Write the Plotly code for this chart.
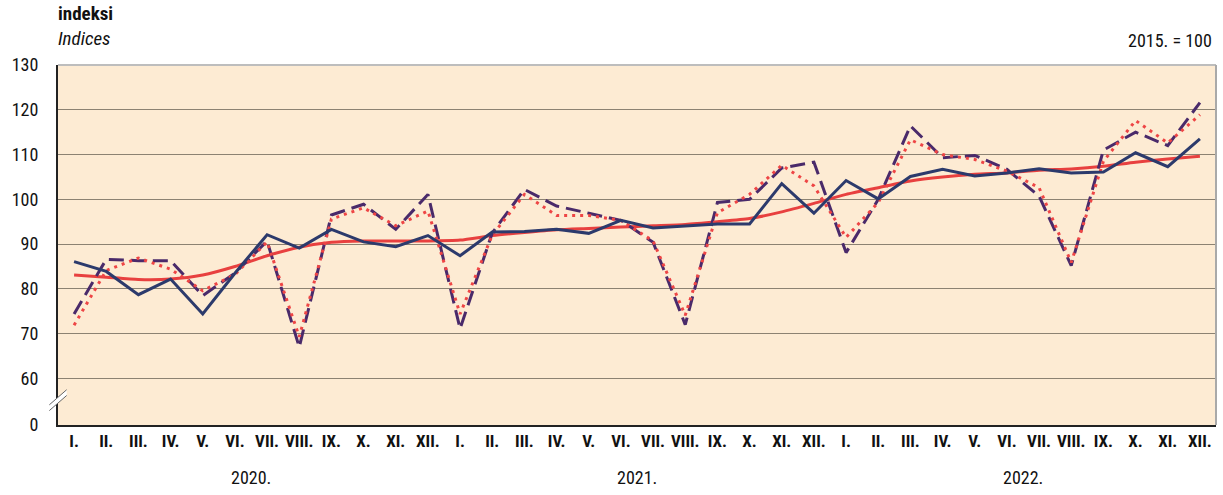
import plotly.graph_objects as go

months = ["I.", "II.", "III.", "IV.", "V.", "VI.", "VII.", "VIII.", "IX.", "X.", "XI.", "XII."]
years = ["2020.", "2021.", "2022."]
x_labels = months * 3
x_pos = list(range(36))

# Solid dark blue series
solid = [86.1, 83.9, 78.7, 82.2, 74.4, 83.5, 92.1, 89.1, 93.3, 90.5, 89.4, 91.9,
         87.4, 92.7, 92.8, 93.3, 92.4, 95.3, 93.6, 94.1, 94.5, 94.5, 103.5, 96.9,
         104.2, 100.1, 105.1, 106.7, 105.2, 105.9, 106.8, 105.9, 106.1, 110.4, 107.3, 113.5]
# Dashed purple series
dashed = [74.4, 86.6, 86.3, 86.3, 78.5, 83.5, 90.7, 67.0, 96.5, 98.9, 93.3, 101.1,
          71.1, 92.5, 102.2, 98.5, 96.9, 95.3, 90.4, 72.0, 99.3, 100.0, 107.0, 108.3,
          88.1, 100.0, 116.4, 109.3, 109.8, 106.7, 100.7, 85.2, 111.0, 115.0, 112.0, 121.6]
# Dotted red series
dotted = [71.9, 84.1, 86.9, 84.4, 79.6, 83.2, 90.5, 69.3, 95.6, 98.1, 94.1, 97.4,
          74.4, 92.0, 101.1, 96.4, 96.4, 95.3, 90.7, 74.1, 97.0, 101.1, 107.6, 103.0,
          91.5, 99.3, 113.3, 110.0, 108.9, 106.3, 102.6, 85.9, 108.5, 117.6, 112.6, 118.9]
# Smooth red trend
trend = [83.1, 82.6, 82.1, 82.2, 83.1, 85.0, 87.4, 89.3, 90.4, 90.7, 90.7, 90.7,
         90.9, 91.9, 92.6, 93.2, 93.5, 93.8, 94.1, 94.4, 95.0, 95.7, 97.2, 99.1,
         101.1, 102.6, 104.1, 105.0, 105.6, 105.9, 106.5, 106.8, 107.4, 108.3, 109.0, 109.6]

y_tickvals = [49.6, 60, 70, 80, 90, 100, 110, 120, 130]
y_ticktext = ["0", "60", "70", "80", "90", "100", "110", "120", "130"]

FONT = "Liberation Sans Narrow, Roboto Condensed, Arial Narrow, Liberation Sans, sans-serif"

fig = go.Figure()
fig.add_trace(go.Scatter(x=x_pos, y=trend, mode="lines",
                         line=dict(color="#E8403F", width=3, shape="spline", smoothing=0.6)))
fig.add_trace(go.Scatter(x=x_pos, y=dashed, mode="lines",
                         line=dict(color="#4A2A6A", width=3, dash="15px,7px")))
fig.add_trace(go.Scatter(x=x_pos, y=dotted, mode="lines",
                         line=dict(color="#EE4545", width=3, dash="3px,5px")))
fig.add_trace(go.Scatter(x=x_pos, y=solid, mode="lines",
                         line=dict(color="#2C3A6C", width=3)))

annotations = [
    dict(text="<b>indeksi</b>", xref="paper", yref="paper", x=0, y=1, yshift=38, xshift=-2,
         xanchor="left", yanchor="bottom", showarrow=False,
         font=dict(family=FONT, size=19, color="#111")),
    dict(text="<i>Indices</i>", xref="paper", yref="paper", x=0, y=1, yshift=13, xshift=-2,
         xanchor="left", yanchor="bottom", showarrow=False,
         font=dict(family=FONT, size=19, color="#111")),
    dict(text="2015. = 100", xref="paper", yref="paper", x=1, y=1, yshift=12, xshift=-2,
         xanchor="right", yanchor="bottom", showarrow=False,
         font=dict(family=FONT, size=18, color="#111")),
]
for k, yr in enumerate(years):
    annotations.append(dict(text=yr, xref="x", yref="paper", x=k * 12 + 5.5, y=0, yshift=-40,
                            xanchor="center", yanchor="top", showarrow=False,
                            font=dict(family=FONT, size=18, color="#111")))

shapes = [
    # axis break marker
    dict(type="path", xref="paper", yref="paper",
         path="M -0.0075 0.04 L 0.0075 0.082 L 0.0075 0.098 L -0.0075 0.056 Z",
         fillcolor="white", line=dict(width=0), layer="above"),
    dict(type="line", xref="paper", yref="paper", x0=-0.0075, y0=0.04, x1=0.0075, y1=0.082,
         line=dict(color="#666", width=1), layer="above"),
    dict(type="line", xref="paper", yref="paper", x0=-0.0075, y0=0.056, x1=0.0075, y1=0.098,
         line=dict(color="#666", width=1), layer="above"),
]

fig.update_layout(
    width=1223, height=495,
    margin=dict(l=58, r=7, t=65, b=70),
    paper_bgcolor="white",
    plot_bgcolor="#FDEBD3",
    showlegend=False,
    annotations=annotations,
    shapes=shapes,
    font=dict(family=FONT, color="#111"),
)
fig.update_xaxes(
    range=[-0.5, 35.5], tickvals=x_pos, ticktext=x_labels,
    tickfont=dict(family=FONT, size=17, color="#111", weight="bold"),
    showgrid=False, zeroline=False,
    showline=True, linecolor="#222", linewidth=2, mirror=False,
    ticks="", ticklabelstandoff=0,
)
fig.update_yaxes(
    range=[49.6, 130], tickvals=y_tickvals, ticktext=y_ticktext,
    tickfont=dict(family=FONT, size=18, color="#111"),
    showgrid=True, gridcolor="#8C8272", gridwidth=1, zeroline=False,
    showline=True, linecolor="#222", linewidth=2,
    ticks="", ticklabelstandoff=14,
)
# light top/right frame
fig.add_shape(type="line", xref="paper", yref="paper", x0=0, y0=1, x1=1, y1=1,
              line=dict(color="#BDBDBD", width=2))
fig.add_shape(type="line", xref="paper", yref="paper", x0=1, y0=0, x1=1, y1=1,
              line=dict(color="#A9A9A9", width=2))

fig.write_html("out.html", config={"displayModeBar": False},
               post_script="document.body.style.margin='0';document.body.style.padding='0';document.body.style.overflow='hidden';")
